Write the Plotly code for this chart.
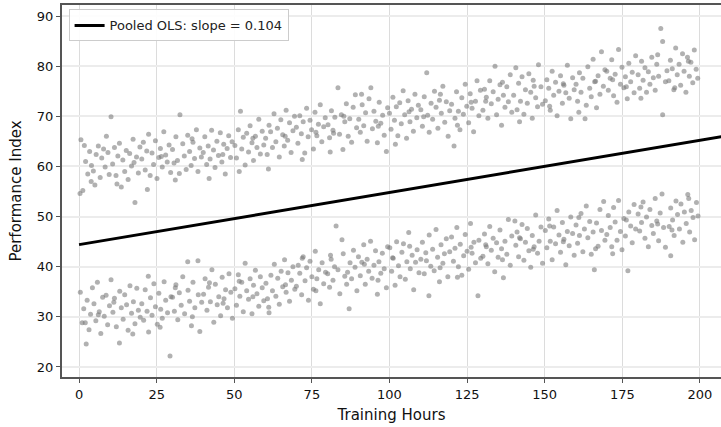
import plotly.graph_objects as go

# ---------------- data ----------------
hours_upper = [
    0.6,1.2,0.3,2.1,2.8,3.4,4.0,4.6,5.1,5.5,6.2,6.8,7.3,7.9,8.4,8.8,9.3,9.7,1.7,3.9,
    10.3,10.8,11.4,11.9,12.5,13.0,13.6,14.1,14.7,15.2,15.8,16.3,16.9,17.4,18.0,18.5,19.1,19.6,12.2,17.7,
    20.2,20.7,21.3,21.8,22.4,22.9,23.5,24.0,24.6,25.1,25.7,26.2,26.8,27.3,27.9,28.4,29.0,29.5,22.0,26.5,
    30.1,30.6,31.2,31.7,32.3,32.5,33.4,33.9,34.5,35.0,35.6,36.1,36.7,37.2,37.8,38.3,38.9,39.4,31.0,36.4,
    40.0,40.5,41.1,41.6,42.2,42.7,43.3,43.8,44.4,44.9,45.5,46.0,46.6,47.1,47.7,48.2,48.8,49.3,41.9,46.3,
    50.2,50.7,51.3,52.0,52.4,52.9,53.5,54.0,54.6,55.1,55.7,56.2,56.8,57.3,57.9,58.4,59.0,59.5,51.6,56.0,
    60.1,60.6,61.2,61.7,62.3,62.8,63.4,63.9,64.5,65.0,65.6,66.1,66.7,67.2,67.8,68.3,68.9,69.4,61.0,66.4,
    70.0,70.5,71.1,71.6,72.2,72.7,73.3,73.8,74.4,74.9,75.5,76.0,76.6,77.1,77.7,78.2,78.8,79.3,71.9,76.3,
    80.2,80.7,81.3,81.8,82.4,83.4,83.9,84.5,85.0,85.6,86.1,86.7,87.2,87.8,88.3,89.0,89.4,80.9,85.3,82.0,
    90.1,90.6,91.2,91.7,92.3,92.8,93.4,94.0,94.5,95.0,95.6,96.1,96.7,97.2,97.8,98.3,99.0,99.4,91.0,96.4,
    100.0,100.5,101.1,101.6,102.2,102.7,103.3,103.8,104.4,104.9,105.5,106.0,106.6,107.1,107.7,108.2,108.8,109.3,101.9,106.3,
    110.1,110.6,111.2,112.0,112.3,112.8,113.4,113.9,114.5,115.0,115.6,116.1,116.7,117.2,117.8,118.3,118.9,119.4,111.0,116.4,
    120.0,120.8,121.1,121.6,122.2,122.7,123.3,123.8,124.4,124.9,125.5,126.0,126.6,127.1,127.7,128.2,128.8,129.3,121.9,126.3,
    130.1,130.6,131.2,131.7,132.3,132.8,133.4,134.0,134.5,135.0,135.6,136.1,136.7,137.2,137.8,138.3,138.9,139.4,131.0,136.4,
    140.0,140.7,141.1,141.6,142.2,142.7,143.3,143.8,144.4,144.9,145.5,146.0,146.6,147.1,147.7,148.0,148.8,149.3,141.9,146.3,
    150.2,150.7,151.3,151.8,152.4,152.9,153.5,154.0,154.6,155.1,155.7,156.2,156.8,157.3,157.9,158.4,159.0,159.5,151.6,156.0,
    160.1,160.6,161.2,161.7,162.3,163.0,163.4,163.9,164.5,165.0,165.6,166.1,166.7,167.2,167.8,168.3,168.9,169.4,161.0,166.4,
    170.0,170.5,171.1,171.6,172.2,172.7,173.3,173.8,174.4,174.9,175.5,176.0,176.6,177.1,177.7,178.2,178.8,179.3,171.9,176.3,
    180.1,180.6,181.2,181.7,182.3,182.8,183.4,183.9,184.5,185.0,185.6,186.1,186.7,187.4,188.0,188.0,188.9,189.4,181.0,186.4,
    190.0,190.5,191.1,191.6,192.2,192.7,193.3,193.8,194.4,194.9,195.5,196.0,196.6,197.1,197.7,198.2,198.8,199.3,191.9,196.3,
]
perf_upper = [
    65.3,55.2,54.6,61.0,58.5,63.0,60.2,59.1,56.3,62.4,64.1,57.8,61.7,63.5,59.9,66.0,62.8,58.4,64.2,57.0,
    69.9,60.5,63.8,58.2,62.1,64.6,55.9,61.3,59.0,63.2,57.4,62.6,60.1,65.4,52.8,61.9,58.7,63.9,56.5,60.8,
    61.5,64.8,59.3,63.1,66.4,58.2,62.7,60.4,65.1,57.6,61.8,63.6,59.9,66.9,62.3,60.9,64.3,58.8,55.4,62.0,
    63.4,60.7,65.9,61.2,58.6,70.3,64.5,62.1,59.4,66.2,63.0,60.2,64.8,61.6,67.3,59.0,63.7,61.9,57.3,65.5,
    62.8,65.9,60.4,64.1,61.5,67.2,63.3,59.8,65.0,62.2,66.7,60.9,64.4,58.5,63.6,66.1,61.8,64.9,57.6,62.4,
    64.2,61.7,67.3,71.0,63.5,65.8,60.3,66.6,62.9,68.1,64.7,61.2,66.0,63.8,69.4,62.5,67.0,64.3,59.0,65.6,
    65.6,62.4,68.2,66.9,63.8,70.5,64.9,67.6,61.9,69.3,66.3,64.1,71.2,65.2,68.7,62.8,67.1,70.0,59.5,66.0,
    67.8,64.6,70.1,66.5,68.9,62.7,71.6,65.9,69.2,67.3,63.5,70.8,66.1,68.4,72.3,64.9,67.9,69.7,61.4,66.8,
    68.3,65.7,71.1,67.2,69.8,75.7,66.4,70.3,63.4,68.9,72.5,66.0,69.5,64.8,71.8,74.3,67.7,62.9,70.0,66.6,
    69.4,66.8,72.3,68.1,70.7,65.0,73.5,75.7,67.5,71.0,69.0,64.7,72.8,68.6,70.2,66.2,63.0,71.7,74.4,68.0,
    70.6,67.4,73.8,69.2,71.9,66.1,72.7,68.5,75.1,70.3,65.6,73.1,68.9,71.4,67.0,74.4,69.7,72.2,64.4,70.9,
    71.3,68.0,73.9,78.7,70.2,66.8,72.6,69.4,75.0,71.8,67.6,73.2,70.6,76.0,68.8,72.9,66.0,71.1,69.9,74.4,
    72.4,64.1,69.6,74.9,71.0,67.3,73.7,70.4,76.4,72.0,68.7,74.5,71.6,66.9,73.0,77.1,70.1,75.2,68.2,72.8,
    71.2,75.4,73.8,69.6,77.1,72.5,74.9,80.0,70.3,73.4,76.3,68.2,74.2,71.8,75.9,72.9,78.3,70.8,73.0,76.8,
    74.2,79.7,71.3,76.6,73.0,77.9,70.4,75.3,72.6,78.5,74.8,69.6,76.0,73.7,71.9,80.3,75.9,72.4,68.9,77.2,
    73.1,77.3,75.6,71.2,79.0,74.2,76.8,70.1,75.0,78.1,72.6,76.2,74.7,80.2,73.6,69.5,77.7,75.3,72.0,76.5,
    76.4,73.0,78.7,74.8,77.6,69.5,72.2,79.9,75.6,73.9,81.4,76.9,71.7,78.1,74.4,82.9,76.0,79.3,70.8,77.0,
    79.0,75.2,77.6,81.3,74.1,78.4,72.8,83.3,76.4,79.8,75.7,77.9,73.5,80.6,76.9,78.8,74.7,82.1,77.3,75.9,
    78.3,75.6,81.0,77.2,79.7,74.8,78.9,76.4,81.8,77.7,75.2,80.4,78.0,87.5,84.9,70.3,76.9,79.1,73.6,82.3,
    77.1,81.2,79.5,75.3,83.6,78.3,80.4,76.2,82.5,79.0,74.8,81.8,78.0,80.8,76.7,83.2,79.4,77.6,75.7,81.0,
]
hours_lower = [
    0.4,1.0,1.5,2.3,2.6,3.2,3.7,4.3,4.8,5.4,5.9,6.5,7.0,7.6,8.1,8.7,9.2,9.8,2.0,6.2,
    10.3,10.9,11.4,12.0,13.0,13.1,13.6,14.2,14.7,15.3,15.8,16.4,16.9,17.5,18.0,18.6,19.1,19.7,11.2,17.3,
    20.2,20.8,21.3,21.9,22.4,23.0,23.5,24.1,24.6,25.2,25.7,26.3,26.8,27.4,27.9,28.5,29.3,29.6,22.3,26.1,
    30.1,30.7,31.2,31.8,32.3,32.9,33.4,34.0,35.0,35.1,35.6,36.2,36.7,37.3,38.3,38.4,38.9,39.5,31.0,36.5,
    40.1,40.6,41.2,41.7,42.3,42.8,43.4,43.9,44.5,45.0,45.6,46.1,46.7,47.2,47.8,48.3,48.9,49.4,42.0,46.4,
    50.2,50.7,51.3,51.8,52.4,52.9,53.5,54.0,54.6,55.1,55.7,56.2,56.8,57.3,57.9,58.4,59.0,59.5,51.6,56.0,
    60.2,60.7,61.2,61.8,62.3,62.9,63.4,64.0,64.5,65.1,65.6,66.2,66.7,67.3,67.8,68.4,68.9,69.5,61.1,66.5,
    70.0,70.6,71.1,71.7,72.2,72.8,73.3,73.9,74.4,75.0,75.5,76.1,76.6,77.2,77.7,78.3,78.8,79.4,71.9,76.3,
    80.1,80.7,81.2,81.8,82.3,82.8,83.4,84.0,84.7,85.1,85.6,86.2,87.0,87.3,87.8,88.4,88.9,89.5,81.0,86.5,
    90.0,90.6,91.1,91.7,92.2,92.8,93.3,93.9,94.4,95.0,95.5,96.1,96.6,97.2,97.7,98.3,99.0,99.4,91.9,96.3,
    100.1,100.7,101.2,101.8,102.3,102.9,103.4,104.0,104.5,105.1,105.6,106.2,106.7,107.3,107.8,108.4,108.9,109.5,101.0,106.5,
    110.1,110.6,111.2,111.7,112.7,112.8,113.3,113.9,114.4,115.0,115.5,116.1,116.6,117.2,117.7,118.3,118.8,119.4,111.9,116.3,
    120.0,120.6,121.1,121.7,122.2,122.8,123.3,123.9,124.4,125.0,125.5,126.1,126.6,127.2,127.7,128.5,128.8,129.4,121.9,126.3,
    130.1,130.6,131.2,131.7,132.3,132.8,133.4,133.9,134.5,135.0,135.6,136.1,136.7,137.2,137.8,138.3,138.9,139.4,131.0,136.4,
    140.4,140.7,141.1,141.6,142.2,142.7,143.3,143.8,144.4,144.9,145.5,146.0,146.6,147.1,147.7,148.2,148.8,149.3,141.9,146.3,
    150.2,150.7,151.3,151.8,152.4,152.9,153.5,154.0,154.6,155.1,155.7,156.2,156.8,157.3,157.9,158.4,159.0,159.5,151.6,156.0,
    160.1,160.6,161.2,161.7,162.3,162.8,163.4,163.9,164.5,165.0,165.6,166.0,166.7,167.2,167.8,168.3,169.0,169.4,161.0,166.4,
    170.0,170.5,171.1,171.6,172.2,172.7,173.3,173.8,174.4,174.9,175.5,176.0,176.8,177.1,177.7,178.2,178.8,179.3,171.9,176.3,
    180.1,180.6,181.2,181.7,182.3,182.8,183.4,183.9,184.5,185.0,185.6,186.1,186.7,187.2,187.8,188.3,188.9,190.6,181.0,186.4,
    190.1,190.6,191.2,191.7,192.3,192.8,193.4,193.9,194.5,195.0,195.6,196.1,196.7,197.2,197.8,198.3,198.9,199.4,191.0,196.4,
]
perf_lower = [
    34.9,28.8,31.6,24.6,33.3,27.4,30.5,35.8,32.6,29.2,36.9,31.0,26.7,33.9,30.1,34.3,28.4,32.2,28.8,30.4,
    37.4,30.9,33.7,28.0,24.8,35.1,31.8,29.5,34.4,32.4,27.3,36.2,30.7,33.0,28.6,35.7,31.3,29.9,32.9,26.6,
    32.6,29.3,35.4,31.1,27.0,33.8,30.3,36.6,32.0,28.5,34.7,31.5,29.7,37.0,33.3,30.8,22.2,34.0,38.1,27.9,
    33.9,31.1,36.4,29.4,34.8,32.3,38.0,30.6,41.0,35.3,33.1,28.2,36.9,31.8,41.2,34.4,27.1,32.9,35.8,30.0,
    34.5,37.6,31.3,35.9,33.0,39.4,28.9,36.5,32.4,34.0,30.2,37.9,33.6,35.4,31.8,38.6,34.9,29.7,36.8,32.7,
    35.6,32.3,38.4,34.1,36.9,31.0,40.7,35.2,33.5,37.6,30.6,36.3,39.3,34.6,32.1,38.0,35.8,33.2,37.1,34.0,
    36.7,33.6,30.8,38.3,35.2,40.5,34.1,37.7,32.5,39.1,36.0,41.4,34.9,38.8,33.1,37.3,40.0,35.5,31.9,36.4,
    36.1,40.3,38.7,34.4,42.0,37.2,39.8,33.3,41.1,38.0,35.5,43.1,37.6,39.4,32.6,40.8,36.6,38.9,41.7,35.2,
    38.6,35.9,41.5,37.3,40.0,48.1,39.4,34.6,45.4,42.6,38.1,36.5,31.6,40.8,37.6,43.3,39.9,35.2,42.3,38.9,
    42.0,38.2,40.9,44.4,36.5,41.5,39.1,45.1,37.7,40.3,43.2,34.5,41.0,38.7,42.7,39.6,35.8,44.0,40.5,37.3,
    43.8,39.1,41.7,36.3,45.0,40.2,38.0,42.9,44.6,37.5,41.0,46.8,39.6,42.3,35.4,40.9,43.4,38.8,41.8,44.1,
    41.5,44.9,38.6,42.8,34.2,46.3,40.1,43.5,39.2,47.4,41.9,37.0,44.4,40.7,42.6,45.6,38.0,43.0,41.2,39.8,
    45.9,41.1,43.7,47.8,40.0,44.5,38.3,42.2,46.4,43.1,39.5,48.6,42.7,44.9,40.8,34.2,45.3,41.7,37.9,43.9,
    42.1,46.5,44.0,40.6,48.0,43.3,45.7,39.0,44.8,41.9,47.3,43.6,37.8,45.1,42.5,49.4,40.3,46.1,44.4,41.4,
    49.1,44.3,46.9,42.0,45.6,48.4,41.3,44.9,47.6,43.2,39.9,46.2,44.0,50.3,42.7,45.1,47.9,40.7,45.8,43.5,
    47.2,43.8,49.5,45.1,41.4,47.9,44.6,51.2,46.3,42.9,48.8,45.5,40.4,47.0,44.2,49.9,46.6,42.3,48.1,45.0,
    48.3,44.7,46.2,50.6,43.0,47.5,52.1,45.8,49.0,42.5,46.9,39.4,48.7,44.1,51.4,47.2,53.0,45.3,49.8,43.6,
    46.4,50.2,47.8,44.0,51.8,48.9,45.3,53.2,47.0,43.4,49.6,46.1,39.2,50.9,48.1,44.8,52.4,47.5,42.6,49.3,
    50.5,47.1,48.8,52.9,45.7,49.9,44.0,51.4,48.2,46.6,53.6,49.1,45.2,50.7,54.5,47.8,43.9,42.2,51.9,48.5,
    48.0,51.7,49.3,46.2,53.1,50.4,47.5,52.5,44.9,50.9,48.6,54.4,46.9,51.2,49.8,45.4,52.8,50.1,47.3,53.6,
]

ols_slope = 0.104
ols_intercept = 44.4
ols_x_span = [0.0, 212.0]
x_range = [-5.5, 206.8]
y_range = [18.0, 92.2]
x_ticks = [0, 25, 50, 75, 100, 125, 150, 175, 200]
y_ticks = [20, 30, 40, 50, 60, 70, 80, 90]

# ---------------- figure ----------------
point_style = dict(size=5, color="rgba(120,120,120,0.58)", line=dict(width=0))

fig = go.Figure()
fig.add_trace(go.Scatter(x=hours_upper + hours_lower, y=perf_upper + perf_lower,
                         mode="markers", marker=point_style,
                         showlegend=False, hoverinfo="skip"))
line_y = [ols_intercept + ols_slope * v for v in ols_x_span]
fig.add_trace(go.Scatter(x=ols_x_span, y=line_y, mode="lines",
                         line=dict(color="black", width=3),
                         name=f"Pooled OLS: slope = {ols_slope:.3f}"))

font = "DejaVu Sans, Arial, sans-serif"
fig.update_layout(
    width=721, height=427,
    margin=dict(l=62, r=0, t=5, b=50, autoexpand=False),
    paper_bgcolor="white", plot_bgcolor="white",
    font=dict(family=font, size=13, color="#111"),
    showlegend=True,
    legend=dict(x=0.01, y=0.988, xanchor="left", yanchor="top",
                bgcolor="rgba(255,255,255,0.9)", bordercolor="#cccccc", borderwidth=1,
                font=dict(size=13, color="#222"), itemwidth=30,
                tracegroupgap=0),
)
fig.update_xaxes(range=x_range, tickvals=x_ticks, ticks="outside", ticklen=4,
                 tickcolor="#555", tickwidth=1, automargin=False,
                 showline=True, linecolor="#555", linewidth=2, mirror=True,
                 showgrid=True, gridcolor="#dcdcdc", gridwidth=1, zeroline=False,
                 title=dict(text="Training Hours", font=dict(size=15), standoff=9),
                 tickfont=dict(size=13))
fig.update_yaxes(range=y_range, tickvals=y_ticks, ticks="outside", ticklen=4,
                 tickcolor="#555", tickwidth=1, automargin=False,
                 showline=True, linecolor="#555", linewidth=2, mirror=False,
                 showgrid=True, gridcolor="#ececec", gridwidth=2, zeroline=False,
                 title=dict(text="Performance Index", font=dict(size=15), standoff=12),
                 tickfont=dict(size=13))

fig.write_html("out.html", config={"displayModeBar": False},
               post_script="document.body.style.margin='0';")
